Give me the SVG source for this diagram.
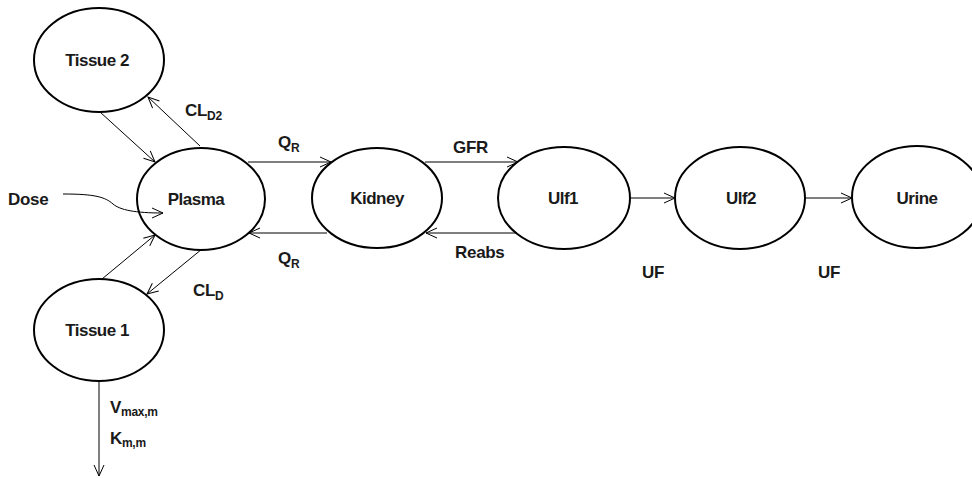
<svg xmlns="http://www.w3.org/2000/svg" width="972" height="478" viewBox="0 0 972 478">
<style>
.node ellipse{fill:none;stroke:#000;stroke-width:2}
text{font-family:"Liberation Sans",Arial,sans-serif;font-weight:bold;fill:#1a1a1a}
.nl{font-size:17px;text-anchor:middle;letter-spacing:-0.5px}
.lbl{font-size:17px;letter-spacing:-0.3px}
.sub{font-size:12px}
.conn path,.conn line{stroke:#000;stroke-width:1;fill:none;marker-end:url(#arr)}
</style>
<defs>
<marker id="arr" markerWidth="14" markerHeight="14" refX="12" refY="6" orient="auto" markerUnits="userSpaceOnUse">
<path d="M1,1 L12,6 L1,11" fill="none" stroke="#000" stroke-width="1"/>
</marker>
</defs>
<rect width="972" height="478" fill="#fff"/>
<g id="tissue2" class="node"><ellipse cx="99" cy="60" rx="65" ry="52"/><text class="nl" x="97" y="66">Tissue 2</text></g>
<g id="plasma" class="node"><ellipse cx="201" cy="199" rx="64" ry="51"/><text class="nl" x="196" y="205">Plasma</text></g>
<g id="kidney" class="node"><ellipse cx="377" cy="198" rx="65" ry="50"/><text class="nl" x="377" y="204">Kidney</text></g>
<g id="ulf1" class="node"><ellipse cx="564" cy="198" rx="66" ry="51"/><text class="nl" x="563" y="204">Ulf1</text></g>
<g id="ulf2" class="node"><ellipse cx="740" cy="198" rx="65" ry="51"/><text class="nl" x="741" y="204">Ulf2</text></g>
<g id="urine" class="node"><ellipse cx="917" cy="197" rx="65" ry="51"/><text class="nl" x="917" y="204">Urine</text></g>
<g id="tissue1" class="node"><ellipse cx="99" cy="330" rx="65" ry="51"/><text class="nl" x="97" y="336">Tissue 1</text></g>
<g id="connectors" class="conn">
<line x1="100" y1="112" x2="155" y2="162"/>
<line x1="200" y1="146" x2="148" y2="97"/>
<line x1="248" y1="162" x2="331" y2="162"/>
<line x1="327" y1="233" x2="249" y2="233"/>
<line x1="425" y1="162" x2="518" y2="162"/>
<line x1="517" y1="233" x2="426" y2="233"/>
<line x1="629" y1="198" x2="675" y2="198"/>
<line x1="805" y1="198" x2="852" y2="198"/>
<line x1="102" y1="279" x2="155" y2="235"/>
<line x1="202" y1="249" x2="147" y2="294"/>
<line x1="99" y1="381" x2="99" y2="476"/>
<path d="M63 194 C95 194,105 197,113 204 C120 210,135 213,163 213"/>
</g>
<g id="labels">
<text class="lbl" x="8" y="205">Dose</text>
<text class="lbl" x="185" y="116">CL<tspan class="sub" dy="4">D2</tspan></text>
<text class="lbl" x="278" y="148">Q<tspan class="sub" dy="4">R</tspan></text>
<text class="lbl" x="278" y="264">Q<tspan class="sub" dy="4">R</tspan></text>
<text class="lbl" x="453" y="153">GFR</text>
<text class="lbl" x="455" y="258">Reabs</text>
<text class="lbl" x="642" y="278">UF</text>
<text class="lbl" x="818" y="278">UF</text>
<text class="lbl" x="193" y="296">CL<tspan class="sub" dy="4">D</tspan></text>
<text class="lbl" x="110" y="413">V<tspan class="sub" dy="3">max,m</tspan></text>
<text class="lbl" x="110" y="444">K<tspan class="sub" dy="3">m,m</tspan></text>
</g>
</svg>
